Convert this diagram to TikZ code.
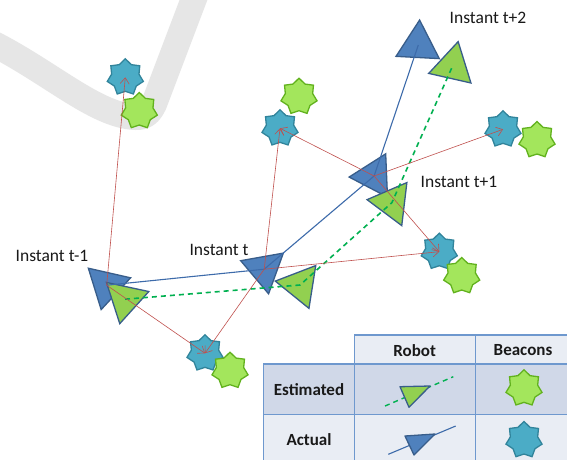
\documentclass[tikz,border=0pt]{standalone}
\usepackage{fontspec}
\setmainfont{Carlito}
\usetikzlibrary{shapes.geometric,arrows.meta}
\definecolor{roadgray}{HTML}{E6E6E6}
\definecolor{beaconblue}{HTML}{4BACC6}
\definecolor{beaconblueedge}{HTML}{31849B}
\definecolor{beacongreen}{HTML}{A3E65C}
\definecolor{beacongreenedge}{HTML}{62B21E}
\definecolor{robotblue}{HTML}{4F81BD}
\definecolor{robotgreen}{HTML}{92D050}
\definecolor{robotedge}{HTML}{385D8A}
\definecolor{trackblue}{HTML}{3D6BAA}
\definecolor{trackgreen}{HTML}{00B050}
\definecolor{obsred}{HTML}{C0504D}
\definecolor{cellA}{HTML}{D0D8E8}
\definecolor{cellB}{HTML}{E9EDF4}
\definecolor{gridblue}{HTML}{6E98CE}
\begin{document}
\begin{tikzpicture}[x=1pt,y=-1pt,
  bstar/.style={star, star points=7, star point ratio=1.32, minimum size=37pt, inner sep=0pt, fill=beaconblue, draw=beaconblueedge, line width=1.3pt},
  gstar/.style={star, star points=7, star point ratio=1.32, minimum size=37pt, inner sep=0pt, fill=beacongreen, draw=beacongreenedge, line width=1.3pt},
  robot/.style={regular polygon, regular polygon sides=3, minimum size=50pt, inner sep=0pt, draw=robotedge, line width=1.3pt},
  brobot/.style={robot, fill=robotblue},
  grobot/.style={robot, fill=robotgreen},
  actual/.style={draw=trackblue, line width=1.1pt},
  estim/.style={draw=trackgreen, line width=1.6pt, dash pattern=on 5pt off 4pt},
  obs/.style={draw=obsred, line width=0.6pt, -{Straight Barb[length=6pt,width=9pt]}},
  lbl/.style={font=\fontsize{17.5}{20}\selectfont, text=black!90, inner sep=0pt},
  cellhead/.style={font=\bfseries\fontsize{17}{20}\selectfont, text=black!90, inner sep=0pt},
  gridline/.style={draw=gridblue, line width=1.1pt}
]
\useasboundingbox (0,0) rectangle (567,459);
\clip (0,0) rectangle (567,459);
\fill[white] (0,0) rectangle (567,459);

% road
\draw[roadgray, line width=26pt, line join=round]
  (-10,42) .. controls (50,72) and (95,115) .. (135,117)
  .. controls (146,117.5) and (150,112) .. (154,104) -- (198,-12);

% beacons
\node[bstar] (b1) at (125.3,77.3) {};
\node[gstar] (g1) at (139.3,111) {};
\node[bstar] (b2) at (280,128.3) {};
\node[gstar] (g2) at (299,96.7) {};
\node[bstar] (b3) at (503,129.3) {};
\node[gstar] (g3) at (537,140) {};
\node[bstar] (b4) at (439.3,251.7) {};
\node[gstar] (g4) at (461.7,276) {};
\node[bstar] (b5) at (205,353.3) {};
\node[gstar] (g5) at (230,370.7) {};

% robots
\node[brobot, rotate=-72.8] (a0) at (106.7,285.2) {};
\node[brobot, rotate=-49.9] (a1) at (264.2,269.2) {};
\node[brobot, rotate=-27.6] (a2) at (374.1,176) {};
\node[brobot, rotate=-3] (a3) at (418.3,45) {};
\node[grobot, rotate=-72.1] (e0) at (125,299.2) {};
\node[grobot, rotate=-39] (e1) at (300,285) {};
\node[grobot, rotate=-36.8] (e2) at (391.9,202.6) {};
\node[grobot, rotate=-12.8] (e3) at (452.6,66) {};

% trajectories
\draw[actual] (a0.center) -- (a1.center) -- (a2.center) -- (a3.center);
\draw[estim] (e0.center) -- (e1.center) -- (e2.center) -- (e3.center);

% observations
\draw[obs] (a0.center) -- (b1.center);
\draw[obs] (a0.center) -- (b5.center);
\draw[obs] (a1.center) -- (b2.center);
\draw[obs] (a1.center) -- (b5.center);
\draw[obs] (a1.center) -- (b4.center);
\draw[obs] (a2.center) -- (b2.center);
\draw[obs] (a2.center) -- (b3.center);
\draw[obs] (a2.center) -- (b4.center);

% labels
\node[lbl] (l0) at (52,256) {Instant t-1};
\node[lbl] (l1) at (219,250) {Instant t};
\node[lbl] (l2) at (459,182) {Instant t+1};
\node[lbl] (l3) at (488,18) {Instant t+2};

% legend table
\fill[cellB] (354.3,335) rectangle (575,364);
\fill[cellA] (263.3,364) rectangle (575,414.3);
\fill[cellB] (263.3,414.3) rectangle (575,470);
\draw[gridline] (354.3,335) -- (575,335);
\draw[gridline] (263.3,364) -- (575,364);
\draw[gridline] (263.3,414.3) -- (575,414.3);
\draw[gridline] (263.3,364) -- (263.3,470);
\draw[gridline] (354.3,335) -- (354.3,470);
\draw[gridline] (475.7,335) -- (475.7,470);

\node[cellhead] (hrobot) at (414.7,350.5) {Robot};
\node[cellhead] (hbeac) at (523,350.5) {Beacons};
\node[cellhead] (hest) at (309,390) {Estimated};
\node[cellhead] (hact) at (309,440) {Actual};

\coordinate (le1) at (385,406);
\coordinate (le2) at (453.3,376.7);
\coordinate (la1) at (388.3,454.3);
\coordinate (la2) at (455.7,426);
\draw[estim, line width=1.4pt] (le1) -- (le2);
\draw[actual] (la1) -- (la2);
\filldraw[fill=robotgreen, draw=robotedge, line width=1.3pt, line join=round]
  (400,386.7) -- (430,386) -- (409,407.3) -- cycle;
\filldraw[fill=robotblue, draw=robotedge, line width=1.3pt, line join=round]
  (405,436) -- (435,434) -- (414,455) -- cycle;
\node[gstar] (lg) at (524,388.3) {};
\node[bstar] (lb) at (524,440) {};
\end{tikzpicture}
\end{document}
